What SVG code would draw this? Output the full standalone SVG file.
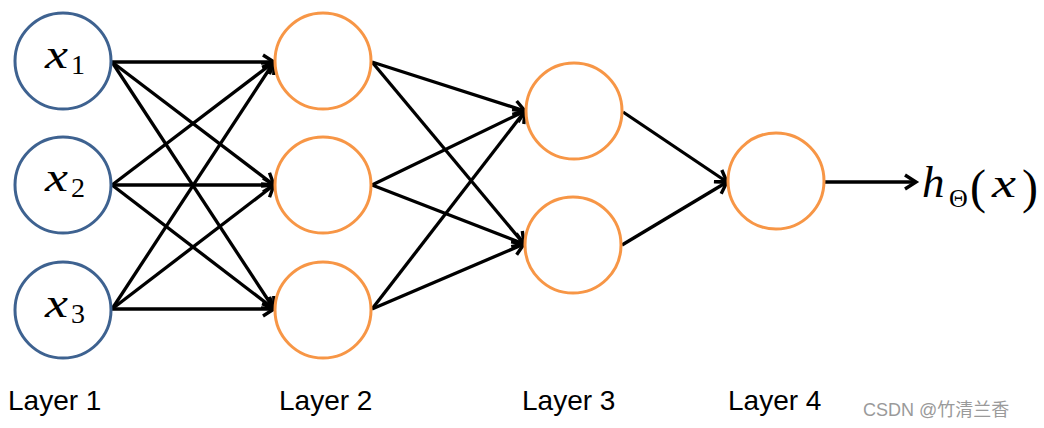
<svg xmlns="http://www.w3.org/2000/svg" width="1044" height="428" viewBox="0 0 1044 428">
<style>
.in{fill:#fff;stroke:#3e6290;stroke-width:3}
.hid{fill:#fff;stroke:#f79646;stroke-width:3}
.e{stroke:#000;stroke-width:3.3;fill:none;marker-end:url(#ah)}
.m{font-family:"Liberation Serif","DejaVu Serif",serif;font-style:italic;fill:#000}
.r{font-family:"Liberation Serif","DejaVu Serif",serif;font-style:normal;fill:#000}
.lab{font-family:"Liberation Sans",Arial,sans-serif;font-size:28px;fill:#000}
.wm{font-family:"Liberation Sans","Noto Sans CJK SC",sans-serif;font-size:18px;fill:#9a9a9a}
</style>
<defs>
<marker id="ah" markerUnits="userSpaceOnUse" markerWidth="20" markerHeight="20" viewBox="0 0 20 20" refX="15" refY="10" orient="auto">
<path d="M4,3 L15,10 L4,17" fill="none" stroke="#000" stroke-width="3.4" stroke-linejoin="miter"/>
</marker>
</defs>
<g id="connectors">
<line class="e" x1="112" y1="62" x2="274" y2="62"/>
<line class="e" x1="112" y1="62" x2="274" y2="185"/>
<line class="e" x1="112" y1="62" x2="274" y2="309"/>
<line class="e" x1="112" y1="185" x2="274" y2="62"/>
<line class="e" x1="112" y1="185" x2="274" y2="185"/>
<line class="e" x1="112" y1="185" x2="274" y2="309"/>
<line class="e" x1="112" y1="309" x2="274" y2="62"/>
<line class="e" x1="112" y1="309" x2="274" y2="185"/>
<line class="e" x1="112" y1="309" x2="274" y2="309"/>
<line class="e" x1="372" y1="62" x2="525" y2="111"/>
<line class="e" x1="372" y1="62" x2="524" y2="244"/>
<line class="e" x1="372" y1="185" x2="525" y2="111"/>
<line class="e" x1="372" y1="185" x2="524" y2="244"/>
<line class="e" x1="372" y1="309" x2="525" y2="111"/>
<line class="e" x1="372" y1="309" x2="524" y2="244"/>
<line class="e" x1="623" y1="112" x2="727" y2="182"/>
<line class="e" x1="622" y1="245" x2="727" y2="182"/>
<line class="e" x1="824" y1="182" x2="916" y2="182"/>
</g>
<g id="x1"><circle class="in" cx="63" cy="61" r="48"/><text class="m" x="45" y="68" font-size="42" textLength="23" lengthAdjust="spacingAndGlyphs">x</text><text class="r" x="71" y="74" font-size="28">1</text></g>
<g id="x2"><circle class="in" cx="63" cy="185" r="48"/><text class="m" x="45" y="191" font-size="42" textLength="23" lengthAdjust="spacingAndGlyphs">x</text><text class="r" x="71" y="197" font-size="28">2</text></g>
<g id="x3"><circle class="in" cx="63" cy="310" r="48"/><text class="m" x="45" y="317" font-size="42" textLength="23" lengthAdjust="spacingAndGlyphs">x</text><text class="r" x="71" y="323" font-size="28">3</text></g>
<g id="l2a"><circle class="hid" cx="323" cy="61" r="48"/></g>
<g id="l2b"><circle class="hid" cx="323" cy="185" r="48"/></g>
<g id="l2c"><circle class="hid" cx="323" cy="310" r="48"/></g>
<g id="l3a"><circle class="hid" cx="574" cy="111" r="48"/></g>
<g id="l3b"><circle class="hid" cx="573" cy="245" r="48"/></g>
<g id="l4"><circle class="hid" cx="776" cy="181" r="48"/></g>
<g id="out">
<text class="m" x="922" y="197" font-size="45">h</text>
<text class="r" x="949" y="207" font-size="26">Θ</text>
<text class="r" x="970" y="203" font-size="48">(</text>
<text class="m" x="992" y="197" font-size="42" textLength="24" lengthAdjust="spacingAndGlyphs">x</text>
<text class="r" x="1022" y="203" font-size="48">)</text>
</g>
<g id="labels">
<text class="lab" x="8" y="410">Layer 1</text>
<text class="lab" x="279" y="410">Layer 2</text>
<text class="lab" x="522" y="410">Layer 3</text>
<text class="lab" x="728" y="410">Layer 4</text>
</g>
<text class="wm" x="863" y="416">CSDN @竹清兰香</text>
</svg>
